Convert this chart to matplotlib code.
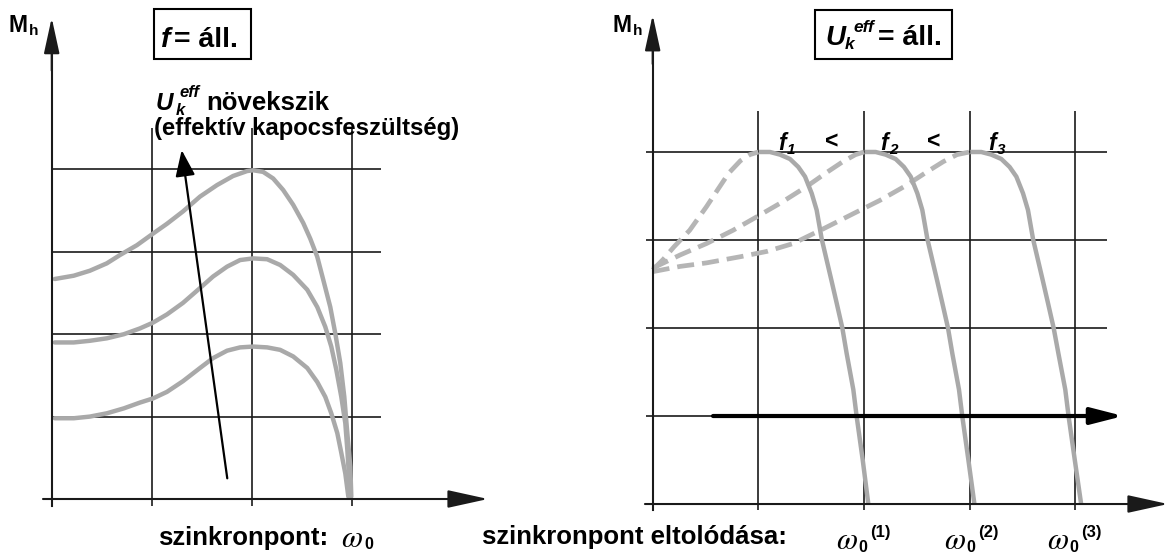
import matplotlib
matplotlib.use("Agg")
import matplotlib.pyplot as plt
from matplotlib.patches import Rectangle

# ---------------- data (grid units) ----------------
# Left panel: f = const, three voltage levels
left_c1_x = [0.03, 0.22, 0.38, 0.55, 0.68, 0.85, 1.01, 1.15, 1.31, 1.48, 1.65, 1.81, 1.95, 2.01, 2.11, 2.21, 2.31, 2.41, 2.51, 2.58, 2.65, 2.71, 2.78, 2.83, 2.88, 2.92, 2.95, 2.98, 2.99]
left_c1_y = [2.67, 2.71, 2.77, 2.86, 2.96, 3.08, 3.22, 3.34, 3.49, 3.67, 3.81, 3.92, 3.98, 3.99, 3.97, 3.89, 3.75, 3.57, 3.35, 3.16, 2.94, 2.66, 2.33, 2.01, 1.65, 1.24, 0.80, 0.39, 0.03]
left_c2_x = [0.03, 0.22, 0.38, 0.55, 0.72, 0.88, 1.01, 1.15, 1.31, 1.48, 1.61, 1.75, 1.88, 2.01, 2.15, 2.28, 2.41, 2.55, 2.65, 2.73, 2.79, 2.84, 2.89, 2.93, 2.95, 2.98]
left_c2_y = [1.90, 1.90, 1.92, 1.95, 2.00, 2.07, 2.14, 2.24, 2.38, 2.56, 2.70, 2.82, 2.90, 2.92, 2.91, 2.84, 2.72, 2.54, 2.33, 2.09, 1.85, 1.57, 1.24, 0.92, 0.60, 0.03]
left_c3_x = [0.03, 0.22, 0.38, 0.55, 0.72, 0.88, 1.01, 1.15, 1.31, 1.48, 1.61, 1.75, 1.88, 2.01, 2.15, 2.28, 2.41, 2.55, 2.65, 2.73, 2.79, 2.85, 2.89, 2.93, 2.96]
left_c3_y = [0.98, 0.98, 1.00, 1.04, 1.10, 1.17, 1.22, 1.30, 1.43, 1.59, 1.71, 1.80, 1.84, 1.85, 1.84, 1.81, 1.73, 1.59, 1.42, 1.24, 1.04, 0.80, 0.56, 0.31, 0.03]

# Right panel: U = const, three frequencies (solid = falling part)
right_f1_x = [1.006, 1.110, 1.205, 1.300, 1.378, 1.442, 1.505, 1.552, 1.600, 1.647, 1.694, 1.742, 1.795, 1.836, 1.899, 1.931, 1.988, 2.041]
right_f1_y = [4.00, 4.00, 3.97, 3.92, 3.83, 3.72, 3.53, 3.34, 3.01, 2.77, 2.53, 2.28, 2.00, 1.71, 1.30, 0.99, 0.50, 0.00]
right_f2_x = [2.006, 2.110, 2.205, 2.300, 2.378, 2.442, 2.505, 2.552, 2.600, 2.647, 2.694, 2.742, 2.795, 2.836, 2.899, 2.931, 2.988, 3.045]
right_f2_y = [4.00, 4.00, 3.97, 3.92, 3.83, 3.72, 3.53, 3.34, 3.01, 2.77, 2.53, 2.28, 2.00, 1.71, 1.30, 0.99, 0.50, 0.00]
right_f3_x = [3.006, 3.110, 3.205, 3.300, 3.378, 3.442, 3.505, 3.552, 3.600, 3.647, 3.694, 3.742, 3.795, 3.840, 3.905, 3.937, 3.995, 4.055]
right_f3_y = [4.00, 4.00, 3.97, 3.92, 3.83, 3.72, 3.53, 3.34, 3.01, 2.77, 2.53, 2.28, 2.00, 1.71, 1.30, 0.99, 0.50, 0.00]
# dashed rising parts
right_d1_x = [0.00, 0.10, 0.20, 0.35, 0.51, 0.62, 0.72, 0.83, 0.92, 1.00]
right_d1_y = [2.66, 2.78, 2.92, 3.11, 3.38, 3.58, 3.76, 3.90, 3.97, 4.00]
right_d2_x = [0.00, 0.26, 0.51, 0.76, 0.98, 1.21, 1.46, 1.65, 1.80, 1.92, 2.00]
right_d2_y = [2.68, 2.83, 2.96, 3.11, 3.26, 3.42, 3.61, 3.77, 3.89, 3.97, 4.00]
right_d3_x = [0.00, 0.26, 0.51, 0.83, 1.08, 1.33, 1.62, 1.90, 2.15, 2.40, 2.59, 2.75, 2.88, 3.00]
right_d3_y = [2.64, 2.70, 2.74, 2.81, 2.87, 2.96, 3.13, 3.30, 3.45, 3.62, 3.77, 3.89, 3.97, 4.00]

grid_levels_left = [1, 2, 3, 4]
grid_cols_left = [1, 2, 3]
grid_levels_right = [1, 2, 3, 4]
grid_cols_right = [1, 2, 3, 4]

freq_labels = ["1", "2", "3"]
omega_sup = ["(1)", "(2)", "(3)"]

# ---------------- figure ----------------
W, H = 1172, 554
fig = plt.figure(figsize=(W / 100, H / 100), dpi=100)
fig.patch.set_facecolor("white")

SANS = "Liberation Sans"
GRID_C = "#1a1a1a"
CURVE_C = "#a9a9a9"
DASH_C = "#b5b5b5"


def ptext(x, y, s, size, style="normal", family=SANS, weight="bold"):
    fig.text(x / W, 1 - y / H, s, fontsize=size, fontstyle=style,
             fontfamily=family, fontweight=weight, ha="left", va="baseline")


def pbox(x0, y0, x1, y1):
    fig.add_artist(Rectangle((x0 / W, 1 - y1 / H), (x1 - x0) / W, (y1 - y0) / H,
                             transform=fig.transFigure, fill=False,
                             lw=1.5, ec="black"))


def arrow(ax, p0, p1, lw, hl, hw, color="black"):
    ax.annotate("", xy=p1, xytext=p0,
                arrowprops=dict(arrowstyle=f"-|>,head_length={hl},head_width={hw}",
                                lw=lw, color=color, shrinkA=0, shrinkB=0,
                                mutation_scale=1),
                annotation_clip=False)


# left axes (grid units)
axL = fig.add_axes([0, 0, 586 / W, 1])
axL.set_xlim(-0.516, 5.332)
axL.set_ylim(-0.6675, 6.056)
axL.axis("off")

axL.hlines(grid_levels_left, 0, 3.29, color=GRID_C, lw=1.2, clip_on=False)
axL.vlines(grid_cols_left, -0.08, 4.50, color=GRID_C, lw=1.2, clip_on=False)
for xs, ys in [(left_c1_x, left_c1_y), (left_c2_x, left_c2_y), (left_c3_x, left_c3_y)]:
    axL.plot(xs, ys, color=CURVE_C, lw=3.2, solid_capstyle="round",
             solid_joinstyle="round", clip_on=False)
axL.plot([0, 0], [-0.08, 5.4], color=GRID_C, lw=1.5, clip_on=False)
arrow(axL, (0, 5.2), (0, 5.84), 1.5, 22, 4.8, GRID_C)
arrow(axL, (-0.087, 0), (4.354, 0), 1.5, 25, 5.5, GRID_C)
arrow(axL, (1.752, 0.251), (1.297, 4.235), 1.6, 16, 6)

# right axes
axR = fig.add_axes([586 / W, 0, (W - 586) / W, 1])
axR.set_xlim(-0.631, 4.915)
axR.set_ylim(-0.568, 5.727)
axR.axis("off")

axR.hlines(grid_levels_right, -0.06, 4.30, color=GRID_C, lw=1.2, clip_on=False)
axR.vlines(grid_cols_right, -0.07, 4.47, color=GRID_C, lw=1.2, clip_on=False)
for xs, ys in [(right_d1_x, right_d1_y), (right_d2_x, right_d2_y), (right_d3_x, right_d3_y)]:
    axR.plot(xs, ys, color=DASH_C, lw=3.4, dashes=(3.6, 1.7), dash_capstyle="butt",
             clip_on=False)
for xs, ys in [(right_f1_x, right_f1_y), (right_f2_x, right_f2_y), (right_f3_x, right_f3_y)]:
    axR.plot(xs, ys, color=CURVE_C, lw=3.2, solid_capstyle="butt",
             solid_joinstyle="round", clip_on=False)
axR.plot([0, 0], [-0.07, 5.3], color=GRID_C, lw=1.5, clip_on=False)
arrow(axR, (0, 5.0), (0, 5.557), 1.5, 22, 4.8, GRID_C)
arrow(axR, (-0.073, 0), (4.877, 0), 1.5, 25, 5.5, GRID_C)
arrow(axR, (0.571, 1), (4.454, 1), 3, 19.5, 5)

# ---------------- texts ----------------
# axis labels
for x0 in (9, 613):
    ptext(x0, 32, "M", 16.5)
    ptext(x0 + 20, 35, "h", 11)

# left box
pbox(154, 9, 251, 59)
ptext(161, 47, "f", 20.5, style="italic")
ptext(174, 47, "= áll.", 20.5)

# right box
pbox(815, 10, 952, 59)
ptext(825, 45, "U", 20, style="italic")
ptext(845, 49, "k", 12.5, style="italic")
ptext(853, 32, "eff", 12.5, style="italic")
ptext(878, 45, "= áll.", 20.5)

# left annotation
ptext(156, 110, "U", 17.5, style="italic")
ptext(176, 115, "k", 12, style="italic")
ptext(179, 97, "eff", 12, style="italic")
ptext(206, 110, "növekszik", 18.5)
ptext(154, 135, "(effektív kapocsfeszültség)", 17.2)

# frequency labels on right
for i, (fx, lx) in enumerate([(778, 825), (880, 927), (988, None)]):
    ptext(fx, 150, "f", 16.5, style="italic")
    ptext(fx + 9, 154, freq_labels[i], 11, style="italic")
    if lx is not None:
        ptext(lx, 148, "<", 16.5)

# bottom labels
ptext(158, 545, "szinkronpont:", 18.5)
ptext(341, 547, "ω", 22, style="italic", family="STIXGeneral", weight="normal")
ptext(364, 549, "0", 11.5)

ptext(482, 544, "szinkronpont eltolódása:", 18.5)
for i, wx in enumerate([836, 944, 1047]):
    ptext(wx, 549, "ω", 22, style="italic", family="STIXGeneral", weight="normal")
    ptext(wx + 22, 552, "0", 11.5)
    ptext(wx + 34, 537, omega_sup[i], 12)

fig.savefig("out.png", dpi=100, facecolor="white")
